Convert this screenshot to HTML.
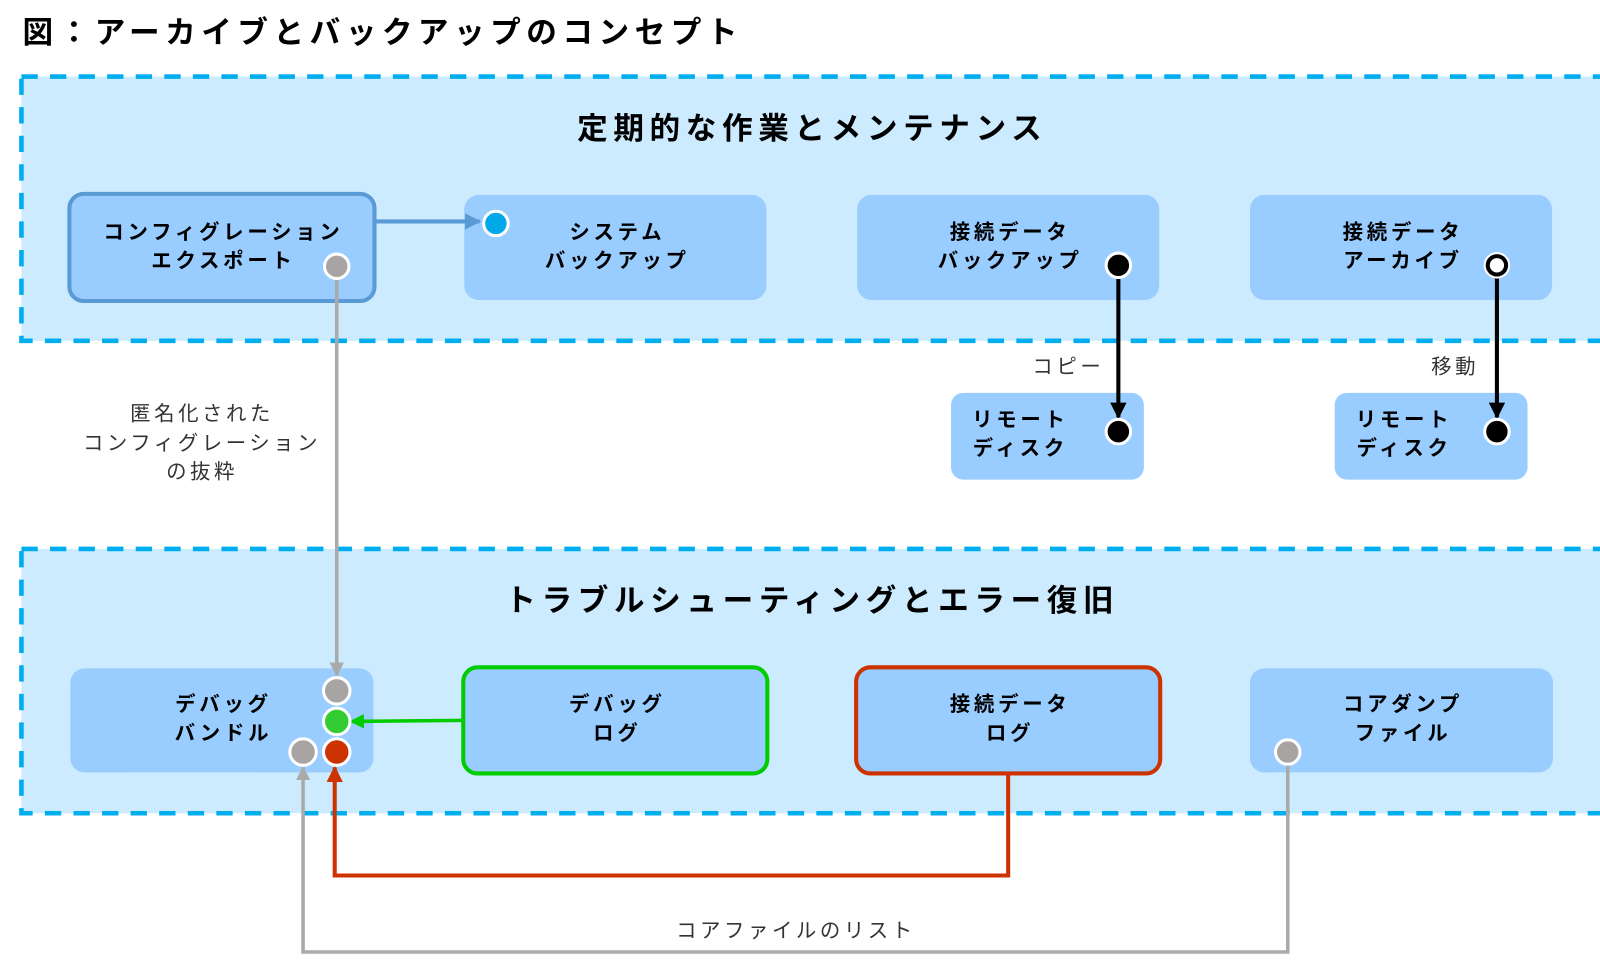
<!DOCTYPE html>
<html><head><meta charset="utf-8"><style>
html,body{margin:0;padding:0;background:#fff;}
svg{display:block;}
text{font-family:"Liberation Sans","Noto Sans CJK JP",sans-serif;}
.t{font-size:20px;font-weight:bold;fill:#000;text-anchor:middle;letter-spacing:3.7px;}
.l{font-size:20px;fill:#333;text-anchor:middle;letter-spacing:3.5px;}
.g{font-size:30px;font-weight:bold;fill:#000;text-anchor:middle;letter-spacing:5.5px;}
</style></head><body>
<svg width="1600" height="961" viewBox="0 0 1568 941.8" xmlns="http://www.w3.org/2000/svg">
<defs>
<marker id="ab" viewBox="0 0 10 10" refX="9" refY="5" markerWidth="4" markerHeight="4" orient="auto"><path d="M0,0L10,5L0,10z" fill="#5B9BD5"/></marker>
<marker id="ak" viewBox="0 0 10 10" refX="9" refY="5" markerWidth="4" markerHeight="4" orient="auto"><path d="M0,0L10,5L0,10z" fill="#000"/></marker>
<marker id="ag" viewBox="0 0 10 10" refX="9" refY="5" markerWidth="4" markerHeight="4" orient="auto"><path d="M0,0L10,5L0,10z" fill="#AAAAAA"/></marker>
<marker id="agr" viewBox="0 0 10 10" refX="9" refY="5" markerWidth="4" markerHeight="4" orient="auto"><path d="M0,0L10,5L0,10z" fill="#00CC00"/></marker>
<marker id="ar" viewBox="0 0 10 10" refX="9" refY="5" markerWidth="4" markerHeight="4" orient="auto"><path d="M0,0L10,5L0,10z" fill="#CC3300"/></marker>
</defs>
<text x="22" y="42" style="font-size:30px;font-weight:bold;letter-spacing:5.4px;">図：アーカイブとバックアップのコンセプト</text>

<rect x="21" y="75" width="1570" height="259" fill="#CCEBFF" stroke="#00AEEF" stroke-width="4.5" stroke-dasharray="16,12"/>
<text class="g" x="796" y="136">定期的な作業とメンテナンス</text>
<rect x="21" y="538" width="1570" height="259" fill="#CCEBFF" stroke="#00AEEF" stroke-width="4.5" stroke-dasharray="16,12"/>
<text class="g" x="796" y="599">トラブルシューティングとエラー復旧</text>

<rect x="68" y="190" width="299" height="105" rx="14" fill="#99CCFF" stroke="#5B9BD5" stroke-width="4"/>
<text class="t" x="219" y="234">コンフィグレーション</text><text class="t" x="219" y="262">エクスポート</text>
<rect x="455" y="191" width="296" height="103" rx="14" fill="#99CCFF"/>
<text class="t" x="605" y="234">システム</text><text class="t" x="605" y="262">バックアップ</text>
<rect x="840" y="191" width="296" height="103" rx="14" fill="#99CCFF"/>
<text class="t" x="990" y="234">接続データ</text><text class="t" x="990" y="262">バックアップ</text>
<rect x="1225" y="191" width="296" height="103" rx="14" fill="#99CCFF"/>
<text class="t" x="1375" y="234">接続データ</text><text class="t" x="1375" y="262">アーカイブ</text>
<rect x="932" y="385" width="189" height="85" rx="12" fill="#99CCFF"/>
<text class="t" x="1000" y="418">リモート</text><text class="t" x="1000" y="446">ディスク</text>
<rect x="1308" y="385" width="189" height="85" rx="12" fill="#99CCFF"/>
<text class="t" x="1376" y="418">リモート</text><text class="t" x="1376" y="446">ディスク</text>

<rect x="69" y="655" width="297" height="102" rx="14" fill="#99CCFF"/>
<text class="t" x="219" y="697">デバッグ</text><text class="t" x="219" y="725">バンドル</text>
<rect x="454" y="654" width="298" height="104" rx="14" fill="#99CCFF" stroke="#00CC00" stroke-width="4"/>
<text class="t" x="605" y="697">デバッグ</text><text class="t" x="605" y="725">ログ</text>
<rect x="839" y="654" width="298" height="104" rx="14" fill="#99CCFF" stroke="#CC3300" stroke-width="4"/>
<text class="t" x="990" y="697">接続データ</text><text class="t" x="990" y="725">ログ</text>
<rect x="1225" y="655" width="297" height="102" rx="14" fill="#99CCFF"/>
<text class="t" x="1375" y="697">コアダンプ</text><text class="t" x="1375" y="725">ファイル</text>

<path d="M367,217H470" stroke="#5B9BD5" stroke-width="4" fill="none" marker-end="url(#ab)"/>
<path d="M330,273V662" stroke="#AAAAAA" stroke-width="3.5" fill="none" marker-end="url(#ag)"/>
<path d="M1096,272V409" stroke="#000" stroke-width="4" fill="none" marker-end="url(#ak)"/>
<path d="M1467,272V409" stroke="#000" stroke-width="4" fill="none" marker-end="url(#ak)"/>
<path d="M455,706L344,707" stroke="#00CC00" stroke-width="3.5" fill="none" marker-end="url(#agr)"/>
<path d="M988,758V858H328V752" stroke="#CC3300" stroke-width="4" fill="none" marker-end="url(#ar)"/>
<path d="M1262,749V933H297V752" stroke="#AAAAAA" stroke-width="3.5" fill="none" marker-end="url(#ag)"/>

<g stroke="#fff" stroke-width="3">
<circle cx="330" cy="261" r="12" fill="#A8A4A4"/>
<circle cx="486" cy="219" r="12" fill="#00A8E8"/>
<circle cx="1096" cy="260" r="12" fill="#000"/>
<circle cx="1096" cy="423" r="12" fill="#000"/>
<circle cx="1467" cy="423" r="12" fill="#000"/>
<circle cx="330" cy="677" r="13" fill="#A8A4A4"/>
<circle cx="330" cy="707" r="13" fill="#33CC33"/>
<circle cx="330" cy="737" r="13" fill="#CC3300"/>
<circle cx="297" cy="737" r="13" fill="#A8A4A4"/>
<circle cx="1262" cy="737" r="12" fill="#A8A4A4"/>
</g>
<circle cx="1467" cy="260" r="13" fill="#fff"/>
<circle cx="1467" cy="260" r="9" fill="#fff" stroke="#000" stroke-width="4"/>

<text class="l" x="1047" y="366">コピー</text>
<text class="l" x="1426" y="366">移動</text>
<text class="l" x="198" y="412">匿名化された</text>
<text class="l" x="198" y="441">コンフィグレーション</text>
<text class="l" x="198" y="469">の抜粋</text>
<text class="l" x="780" y="919">コアファイルのリスト</text>
</svg>
</body></html>
